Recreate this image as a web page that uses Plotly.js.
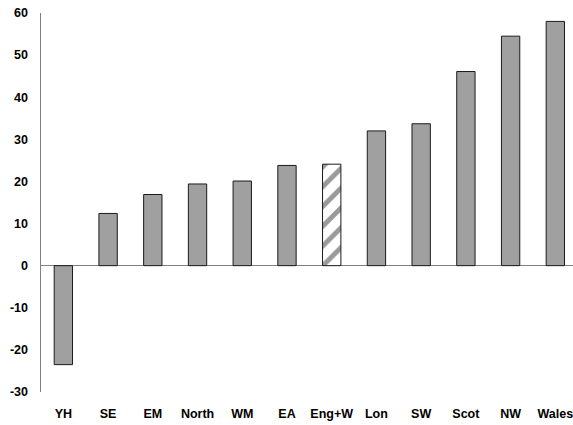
<!DOCTYPE html>
<html>
<head>
<meta charset="utf-8">
<script src="https://cdn.plot.ly/plotly-3.0.1.min.js"></script>
<style>html,body{margin:0;padding:0;background:#fff;}#chart{width:573px;height:425px;}</style>
</head>
<body>
<div id="chart"></div>
<script>
const categories = ["YH", "SE", "EM", "North", "WM", "EA", "Eng+W", "Lon", "SW", "Scot", "NW", "Wales"];
const values = [-23.5, 12.4, 16.9, 19.4, 20.1, 23.8, 24.1, 32.0, 33.7, 46.1, 54.5, 58.0];
const yTicks = [-30, -20, -10, 0, 10, 20, 30, 40, 50, 60];
const hatchedCategory = "Eng+W";

const plainX = [], plainY = [], hatchX = [], hatchY = [];
categories.forEach((c, i) => {
  if (c === hatchedCategory) { hatchX.push(c); hatchY.push(values[i]); }
  else { plainX.push(c); plainY.push(values[i]); }
});

const fontFam = '"Liberation Sans", Arial, sans-serif';

const plainTrace = {
  type: "bar",
  x: plainX,
  y: plainY,
  width: 0.41,
  marker: {color: "#a0a0a0", line: {color: "#1a1a1a", width: 1}}
};

const hatchTrace = {
  type: "bar",
  x: hatchX,
  y: hatchY,
  width: 0.41,
  marker: {
    color: "#ffffff",
    line: {color: "#1a1a1a", width: 1},
    pattern: {shape: "/", fgcolor: "#9a9a9a", bgcolor: "#ffffff", size: 14, solidity: 0.35}
  }
};

const layout = {
  width: 573,
  height: 425,
  margin: {l: 41, r: 0, t: 13, b: 33},
  paper_bgcolor: "#ffffff",
  plot_bgcolor: "#ffffff",
  showlegend: false,
  barmode: "overlay",
  font: {family: fontFam, size: 12.5, color: "#000000"},
  xaxis: {
    type: "category",
    categoryorder: "array",
    categoryarray: categories,
    range: [-0.5, 11.395],
    showline: false,
    showgrid: false,
    zeroline: false,
    ticks: "",
    ticklabelstandoff: 12,
    tickfont: {family: fontFam, size: 12.5, color: "#000000", weight: "bold"}
  },
  yaxis: {
    range: [-30, 60],
    tickvals: yTicks,
    ticktext: yTicks.map(String),
    showline: true,
    linecolor: "#808080",
    linewidth: 1.5,
    showgrid: false,
    zeroline: true,
    zerolinecolor: "#808080",
    zerolinewidth: 1.5,
    ticks: "",
    ticklabelstandoff: 9,
    tickfont: {family: fontFam, size: 12.5, color: "#000000", weight: "bold"}
  }
};

Plotly.newPlot("chart", [plainTrace, hatchTrace], layout, {displayModeBar: false, staticPlot: true});
</script>
</body>
</html>
